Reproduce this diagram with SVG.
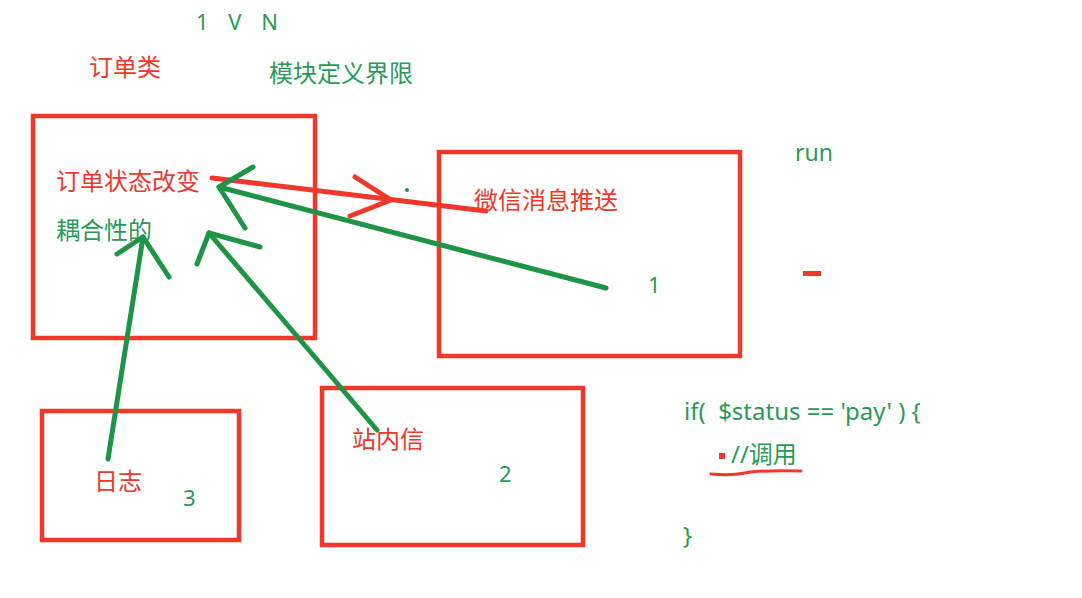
<svg xmlns="http://www.w3.org/2000/svg" width="1082" height="598" viewBox="0 0 1082 598">
<style>
.box{fill:none;stroke:#f0382a;stroke-width:4.5}
.t{font-family:"Noto Sans","Noto Sans CJK SC",sans-serif;font-size:24px;white-space:pre}
.r{fill:#ea3a2c}
.g{fill:#2a9a58}
.ga{fill:none;stroke:#1e9446;stroke-width:5;stroke-linecap:round;stroke-linejoin:round}
.ra{fill:none;stroke:#f0382a;stroke-width:5;stroke-linecap:round;stroke-linejoin:round}
</style>
<rect width="1082" height="598" fill="#ffffff"/>
<g id="labels">
<text class="t g" x="196" y="30" style="font-size:22px;letter-spacing:7px">1 V N</text>
<text class="t r" x="89" y="76">订单类</text>
<text class="t g" x="269" y="82">模块定义界限</text>
<text class="t g" x="795" y="161" style="font-size:23px">run</text>
<rect x="803" y="271" width="18" height="5" fill="#f0382a"/>
</g>
<g id="order">
<rect class="box" x="33" y="116" width="282" height="222"/>
<text class="t r" x="56" y="190">订单状态改变</text>
<text class="t g" x="56" y="239">耦合性的</text>
</g>
<g id="wechat">
<rect class="box" x="439" y="152" width="301" height="204"/>
<text class="t r" x="474" y="209">微信消息推送</text>
<text class="t g" x="648" y="293" style="font-size:22px">1</text>
</g>
<g id="log">
<rect class="box" x="42" y="411" width="197" height="129"/>
<text class="t r" x="94" y="490">日志</text>
<text class="t g" x="183" y="506" style="font-size:22px">3</text>
</g>
<g id="inbox">
<rect class="box" x="322" y="388" width="261" height="157"/>
<text class="t r" x="352" y="448">站内信</text>
<text class="t g" x="499" y="482" style="font-size:22px">2</text>
</g>
<g id="code">
<text class="t g" x="684" y="420" style="font-size:24px">if(  $status == 'pay' ) {</text>
<rect x="719" y="453" width="6" height="6" fill="#f0382a"/>
<text class="t g" x="731" y="463">//调用</text>
<path d="M711 474 Q730 476 745 473 T801 471" fill="none" stroke="#f0382a" stroke-width="3" stroke-linecap="round"/>
<text class="t g" x="683" y="544" style="font-size:24px">}</text>
</g>
<g id="connectors">
<path class="ra" d="M212 178 L486 211"/>
<path class="ra" d="M355 177 L391 200 L350 216"/>
<circle cx="407" cy="190" r="2" fill="#1e9446"/>
<path class="ga" d="M606 288 L219 187"/>
<path class="ga" d="M253 167 L219 187 L245 228"/>
<path class="ga" d="M377 430 L209 233"/>
<path class="ga" d="M260 247 L209 233 L197 264"/>
<path class="ga" d="M108 459 L143 237"/>
<path class="ga" d="M117 254 L143 237 L169 277"/>
</g>
</svg>
